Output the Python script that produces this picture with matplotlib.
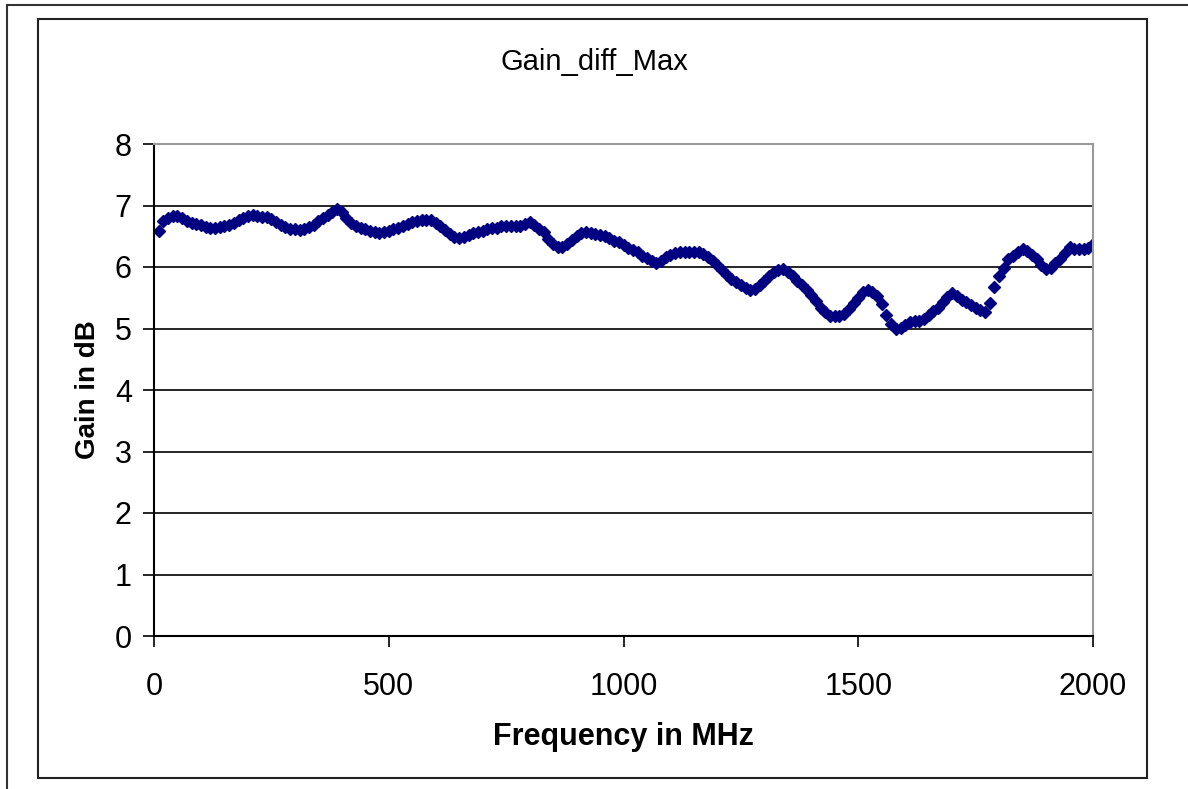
import matplotlib.pyplot as plt
from matplotlib.patches import Rectangle
from matplotlib.lines import Line2D

plt.rcParams['font.family'] = ['Liberation Sans', 'DejaVu Sans']

# frequency in MHz, step 10
freq = list(range(10, 2001, 10))

# gain in dB
gain = [
    6.59, 6.74, 6.80, 6.83, 6.83, 6.80, 6.74, 6.71, 6.70, 6.68,
    6.65, 6.63, 6.63, 6.65, 6.66, 6.68, 6.72, 6.76, 6.80, 6.83,
    6.84, 6.83, 6.82, 6.82, 6.78, 6.73, 6.68, 6.65, 6.62, 6.61,
    6.60, 6.62, 6.65, 6.69, 6.74, 6.79, 6.85, 6.89, 6.94, 6.90,
    6.79, 6.72, 6.66, 6.63, 6.61, 6.59, 6.57, 6.56, 6.57, 6.59,
    6.62, 6.64, 6.67, 6.70, 6.73, 6.74, 6.76, 6.77, 6.76, 6.72,
    6.66, 6.60, 6.54, 6.49, 6.47, 6.48, 6.52, 6.55, 6.57, 6.59,
    6.62, 6.63, 6.64, 6.66, 6.67, 6.67, 6.66, 6.67, 6.70, 6.73,
    6.68, 6.62, 6.57, 6.45, 6.38, 6.33, 6.32, 6.38, 6.44, 6.50,
    6.56, 6.57, 6.55, 6.54, 6.52, 6.50, 6.47, 6.43, 6.40, 6.35,
    6.31, 6.28, 6.24, 6.18, 6.14, 6.09, 6.06, 6.10, 6.16, 6.20,
    6.22, 6.24, 6.24, 6.25, 6.25, 6.24, 6.21, 6.17, 6.10, 6.03,
    5.95, 5.87, 5.81, 5.76, 5.71, 5.66, 5.63, 5.64, 5.70, 5.78,
    5.86, 5.92, 5.95, 5.96, 5.92, 5.86, 5.78, 5.70, 5.62, 5.55,
    5.45, 5.34, 5.27, 5.21, 5.20, 5.20, 5.24, 5.32, 5.42, 5.50,
    5.59, 5.63, 5.60, 5.53, 5.40, 5.22, 5.08, 5.00, 5.01, 5.05,
    5.10, 5.12, 5.13, 5.16, 5.22, 5.28, 5.34, 5.43, 5.51, 5.57,
    5.53, 5.46, 5.43, 5.39, 5.34, 5.30, 5.27, 5.42, 5.68, 5.86,
    5.99, 6.13, 6.18, 6.24, 6.29, 6.26, 6.20, 6.13, 6.04, 5.97,
    5.99, 6.06, 6.13, 6.23, 6.33, 6.30, 6.29, 6.30, 6.31, 6.37,
]

fig = plt.figure(figsize=(11.88, 7.89), dpi=100)

# page lines and chart frame
fig.add_artist(Line2D([7/1188, 1], [1 - 5/789, 1 - 5/789], color='#333333', lw=1.5))
fig.add_artist(Line2D([7/1188, 7/1188], [0, 1 - 5/789], color='#333333', lw=1.5))
fig.add_artist(Rectangle((38/1188, 1 - 778/789), 1109/1188, 759/789, fill=False,
                         edgecolor='#222222', lw=1.5))

ax = fig.add_axes([154/1188, 1 - 636/789, 939/1188, 492/789])
ax.plot(freq, gain, linestyle='none', marker='D', markersize=6.5,
        color='#000080', markeredgecolor='#000080')

ax.set_xlim(0, 2000)
ax.set_ylim(0, 8)
ax.set_xticks([0, 500, 1000, 1500, 2000])
ax.set_yticks(range(0, 9))
ax.grid(axis='y', color='black', lw=1.2)
ax.set_axisbelow(True)

ax.spines['left'].set_color('black')
ax.spines['bottom'].set_color('black')
ax.spines['top'].set_color('#999999')
ax.spines['right'].set_color('#999999')
for s in ax.spines.values():
    s.set_linewidth(1.5)

ax.tick_params(axis='both', direction='out', length=8, width=1.2, labelsize=22, pad=8)
ax.tick_params(axis='x', pad=18)

ax.set_xlabel('Frequency in MHz', fontsize=22, fontweight='bold', labelpad=14)
ax.set_ylabel('Gain in dB', fontsize=20, fontweight='bold', labelpad=10)
fig.text(0.5, 1 - 62/789, 'Gain_diff_Max', ha='center', va='center', fontsize=21)

fig.savefig('out.png', dpi=100)
